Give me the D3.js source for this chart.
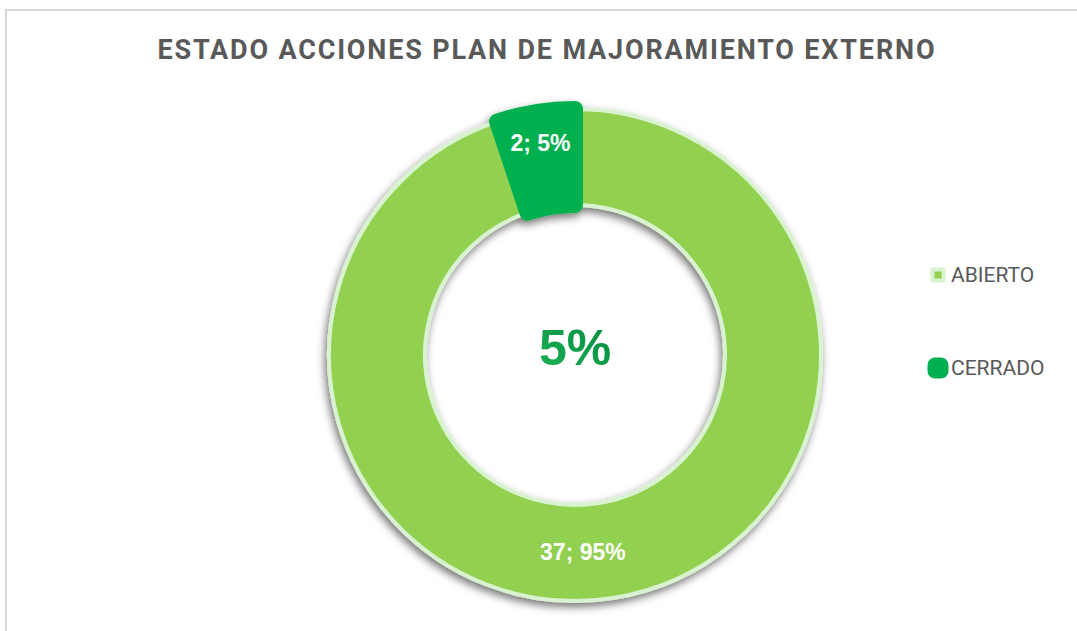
<!DOCTYPE html>
<html>
<head>
<meta charset="utf-8">
<script src="https://cdn.jsdelivr.net/npm/d3@7"></script>
<style>
  body { margin: 0; background: #fff; }
  svg { display: block; }
</style>
</head>
<body>
<div id="chart"></div>
<script>
'use strict'

// data
let categories = ['ABIERTO', 'CERRADO']
let values = [37, 2]
let colors = ['#92d050', '#00b050']
let title = 'ESTADO ACCIONES PLAN DE MAJORAMIENTO EXTERNO'

let config = {
  width: 1077,
  height: 631,
  cx: 575,
  cy: 355,
  outer: 246,
  inner: 150
}

let total = d3.sum(values)
let pctFmt = d3.format('.0%')
let rows = categories.map((c, i) => ({name: c, value: values[i], color: colors[i], pct: values[i] / total}))

let svg = d3.select('#chart').append('svg')
  .attr('width', config.width)
  .attr('height', config.height)

let defs = svg.append('defs')
let shadow = defs.append('filter').attr('id', 'shadow')
  .attr('x', '-20%').attr('y', '-20%').attr('width', '140%').attr('height', '140%')
shadow.append('feDropShadow')
  .attr('dx', -2).attr('dy', 4)
  .attr('stdDeviation', 4)
  .attr('flood-color', '#000')
  .attr('flood-opacity', 0.55)

let grad = defs.append('linearGradient').attr('id', 'centerGrad')
  .attr('x1', 0).attr('y1', 1).attr('x2', 1).attr('y2', 0)
grad.append('stop').attr('offset', '0%').attr('stop-color', '#1db456')
grad.append('stop').attr('offset', '100%').attr('stop-color', '#00893c')

// frame
svg.append('rect')
  .attr('x', 6).attr('y', 10)
  .attr('width', config.width).attr('height', config.height)
  .attr('fill', 'none')
  .attr('stroke', '#d9d9d9')
  .attr('stroke-width', 2)

svg.append('text')
  .attr('x', 546)
  .attr('y', 50)
  .attr('text-anchor', 'middle')
  .attr('dominant-baseline', 'central')
  .attr('textLength', 777)
  .attr('lengthAdjust', 'spacing')
  .style('font-family', 'Roboto, "Liberation Sans", sans-serif')
  .style('font-weight', 'bold')
  .style('font-size', '27px')
  .attr('fill', '#595959')
  .text(title)

let pie = d3.pie().sort(null).value(d => d.value)
let arcs = pie(rows)
let arc = d3.arc().innerRadius(config.inner).outerRadius(config.outer)

let g = svg.append('g')
  .attr('transform', `translate(${config.cx}, ${config.cy})`)

let ring = g.append('g').attr('filter', 'url(#shadow)')

ring.selectAll('path.slice').data(arcs).enter().append('path')
  .attr('class', 'slice')
  .attr('d', arc)
  .attr('fill', d => d.data.color)
  .attr('stroke', d => d.index === 0 ? '#d9f2d0' : d.data.color)
  .attr('stroke-width', d => d.index === 0 ? 4 : 16)
  .attr('stroke-linejoin', 'round')

// data labels
let labelPos = d => {
  let mid = (d.startAngle + d.endAngle) / 2
  let r = 215
  if (d.data.pct > 0.5) {
    // big slice: excel puts it near the bottom
    mid = Math.PI - 0.04
    r = 197
  }
  return [Math.sin(mid) * r, -Math.cos(mid) * r]
}

g.selectAll('text.label').data(arcs).enter().append('text')
  .attr('class', 'label')
  .attr('x', d => labelPos(d)[0])
  .attr('y', d => labelPos(d)[1])
  .attr('text-anchor', 'middle')
  .attr('dominant-baseline', 'central')
  .style('font-family', '"Liberation Sans", Arial, sans-serif')
  .style('font-weight', 'bold')
  .style('font-size', '23px')
  .attr('fill', '#fff')
  .text(d => d.data.value + '; ' + pctFmt(d.data.pct))

// center value
g.append('text')
  .attr('x', 0)
  .attr('y', -7)
  .attr('text-anchor', 'middle')
  .attr('dominant-baseline', 'central')
  .style('font-family', '"Liberation Sans", Arial, sans-serif')
  .style('font-weight', 'bold')
  .style('font-size', '50px')
  .attr('fill', 'url(#centerGrad)')
  .text(pctFmt(rows[1].pct))

// legend
let legend = svg.append('g').attr('class', 'legend')
  .attr('transform', 'translate(938, 275)')

let items = legend.selectAll('g.item').data(rows).enter().append('g')
  .attr('class', 'item')
  .attr('transform', (d, i) => `translate(0, ${i * 93})`)

items.append('rect')
  .attr('x', d => d.pct > 0.5 ? -5.5 : -3)
  .attr('y', d => d.pct > 0.5 ? -5.5 : -3)
  .attr('width', d => d.pct > 0.5 ? 11 : 6)
  .attr('height', d => d.pct > 0.5 ? 11 : 6)
  .attr('fill', d => d.color)
  .attr('stroke', d => d.pct > 0.5 ? '#d9f2d0' : d.color)
  .attr('stroke-width', d => d.pct > 0.5 ? 4 : 15)
  .attr('stroke-linejoin', 'round')

items.append('text')
  .attr('x', 13)
  .attr('y', 0)
  .attr('dominant-baseline', 'central')
  .style('font-family', 'Roboto, "Liberation Sans", sans-serif')
  .style('font-size', '21px')
  .attr('fill', '#595959')
  .text(d => d.name)
</script>
</body>
</html>
